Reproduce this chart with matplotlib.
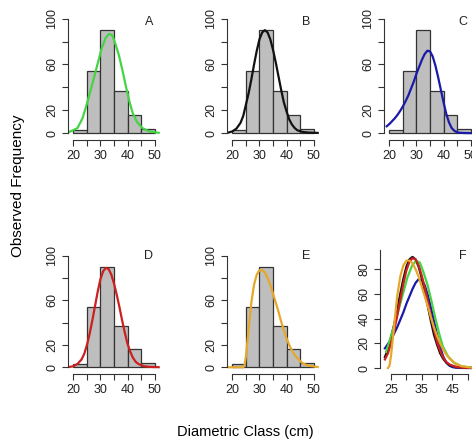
import numpy as np
import matplotlib.pyplot as plt

plt.rcParams['font.family'] = ['Liberation Sans', 'DejaVu Sans']

# Histograma observado
breaks = [20, 25, 30, 35, 40, 45, 50]
counts = [3, 54, 90, 37, 16, 4]

# Curvas ajustadas
xA = [18.1, 21.5, 23.4, 24.7, 26.6, 28.4, 30.3, 31.9, 33.2, 34.4, 35.6, 36.9, 38.2, 39.4, 40.7, 41.9, 43.6, 45.5, 48.0, 51.5]
yA = [0.6, 4.4, 13.2, 23.4, 39.5, 55.6, 73.1, 83.3, 86.8, 85.4, 77.5, 67.3, 54.1, 40.9, 27.8, 17.5, 9.4, 4.4, 1.5, 0.3]

xB = [18.5, 20, 21.5, 23, 24, 25, 26, 27, 28, 29, 30, 31, 32, 33, 34, 35, 36, 37, 38, 39, 40, 41, 42, 43, 44, 46, 48, 51.5]
yB = [0.5, 1.5, 4, 9, 15, 25, 35, 47, 60, 72, 82, 88, 90, 88, 82, 73, 62, 50, 38, 27, 19, 12, 7.5, 4.5, 2.5, 1, 0.5, 0.2]

xC = [19, 20, 21, 22, 23, 24, 25, 26, 27, 28, 29, 30, 31, 32, 33, 34, 35, 36, 37, 38, 39, 40, 41, 42, 43, 44, 45, 46, 48, 51]
yC = [6, 8, 10.5, 13, 16, 19.5, 23.5, 28, 33, 39, 45, 52, 58, 64, 69, 72, 71.5, 67, 59, 49, 38, 27, 17, 9.5, 4.5, 2, 0.8, 0.3, 0.1, 0]

xD = [18.5, 20, 21.5, 23, 24, 25, 26, 27, 28, 29, 30, 31, 32, 33, 34, 35, 36, 37, 38, 39, 40, 41, 42, 43, 44, 46, 48, 51.5]
yD = [0.3, 1, 3, 7, 12, 20, 30, 42, 55, 68, 79, 86, 89, 88, 83, 75, 65, 54, 42, 31, 21, 14, 8.5, 5, 3, 1, 0.4, 0.1]

xE = [18.5, 20, 22, 24, 24.5, 25, 25.5, 26, 27, 28, 29, 30, 31, 32, 33, 34, 35, 36, 37, 38, 39, 40, 41, 42, 43, 44, 46, 48, 51.5]
yE = [0, 0, 0, 0, 2, 10, 22, 34, 58, 74, 83, 87, 87, 85, 80, 74, 66, 58, 50, 41, 33, 26, 20, 15, 11, 8, 3.5, 1.5, 0.3]

letters = ['A', 'B', 'C', 'D', 'E']
curves = [(xA, yA), (xB, yB), (xC, yC), (xD, yD), (xE, yE)]
colores = ['#44d444', '#111111', '#1a1aa8', '#cc2020', '#e6a82a']

W, H = 472, 444
fig = plt.figure(figsize=(W / 100, H / 100), dpi=100)

def caja(left, top, bottom, width=92):
    return fig.add_axes([left / W, 1 - bottom / H, width / W, (bottom - top) / H])

def estilo(ax):
    for s in ['top', 'right']:
        ax.spines[s].set_visible(False)
    for s in ['left', 'bottom']:
        ax.spines[s].set_color('#333333')
        ax.spines[s].set_linewidth(0.8)
    ax.tick_params(direction='out', length=4, width=0.8, colors='#333333',
                   labelsize=9, labelcolor='#222222')
    ax.tick_params(axis='y', pad=3)
    for t in ax.get_yticklabels():
        t.set_rotation(90)
        t.set_va('center')

# posiciones de los paneles (pixeles)
pos = [(68, 13, 140), (227, 13, 140), (384, 13, 140),
       (68, 250, 374), (227, 250, 374)]
ltx = [0.88, 0.86, 0.86, 0.88, 0.86]
lty = [0.93, 0.93, 0.93, 0.95, 0.95]

for i in range(5):
    ax = caja(*pos[i])
    ax.bar(breaks[:-1], counts, width=5, align='edge', color='#bebebe',
           edgecolor='#333333', linewidth=0.9)
    ax.plot(curves[i][0], curves[i][1], color=colores[i], lw=1.6)
    ax.set_xlim(18, 52)
    ax.set_ylim(-6, 105)
    ax.set_xticks([20, 25, 30, 35, 40, 45, 50])
    ax.set_xticklabels(['20', '', '30', '', '40', '', '50'])
    ax.set_yticks([0, 20, 40, 60, 80, 100])
    ax.set_yticklabels(['0', '20', '', '60', '', '100'])
    ax.spines['left'].set_bounds(0, 100)
    ax.spines['bottom'].set_bounds(20, 50)
    estilo(ax)
    ax.text(ltx[i], lty[i], letters[i], transform=ax.transAxes,
            ha='center', va='center', fontsize=9, color='#222222')

# Panel F: todas las curvas juntas
axF = caja(380, 250, 374)
for i in [2, 1, 0, 3, 4]:
    x = np.array(curves[i][0])
    y = np.array(curves[i][1])
    m = x >= 22.4
    axF.plot(x[m], y[m], color=colores[i], lw=1.6)
axF.set_xlim(21.4, 51.4)
axF.set_ylim(-4.8, 95.6)
axF.set_xticks([25, 30, 35, 40, 45, 50])
axF.set_xticklabels(['25', '', '35', '', '45', ''])
axF.set_yticks([0, 20, 40, 60, 80])
axF.spines['left'].set_bounds(0, 95.6)
axF.spines['bottom'].set_bounds(25, 50)
estilo(axF)
axF.text(0.90, 0.95, 'F', transform=axF.transAxes, ha='center', va='center',
         fontsize=9, color='#222222')

fig.text(18 / W, 1 - 186 / H, 'Observed Frequency', rotation=90,
         ha='center', va='center', fontsize=11)
fig.text(245 / W, 1 - 432 / H, 'Diametric Class (cm)', ha='center',
         va='center', fontsize=10.5)

fig.savefig('out.png', dpi=100)
